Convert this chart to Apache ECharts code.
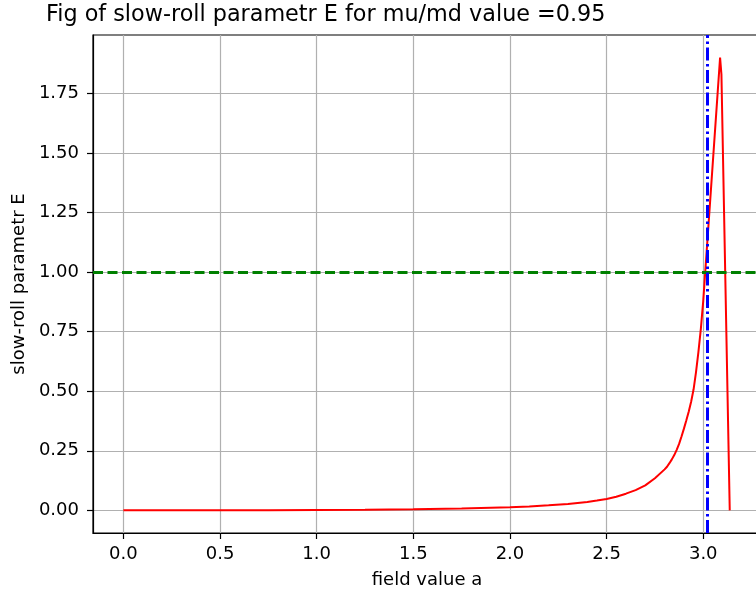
<!DOCTYPE html>
<html>
<head>
<meta charset="utf-8">
<script src="https://cdn.jsdelivr.net/npm/echarts@6/dist/echarts.min.js"></script>
<style>html,body{margin:0;padding:0;background:#fff;}#c{width:756px;height:593px;}</style>
</head>
<body>
<div id="c"></div>
<script>
var titleText = 'Fig of slow-roll parametr E for mu/md value =0.95';
var xLabel = 'field value a';
var yLabel = 'slow-roll parametr E';
var xTicks = [0, 0.5, 1.0, 1.5, 2.0, 2.5, 3.0];
var yTicks = [0, 0.25, 0.5, 0.75, 1.0, 1.25, 1.5, 1.75];
var fieldA = [0, 0.25, 0.5, 0.75, 1.0, 1.25, 1.5, 1.75, 2.0, 2.1, 2.2, 2.3, 2.4, 2.45, 2.5, 2.55, 2.6, 2.65, 2.7, 2.75, 2.8, 2.8125, 2.825, 2.8375, 2.85, 2.8625, 2.875, 2.8875, 2.9, 2.9125, 2.925, 2.9375, 2.95, 2.9625, 2.975, 2.9875, 3.0, 3.087, 3.094, 3.137];
var epsilonE = [0, 0.0001, 0.0004, 0.001, 0.002, 0.003, 0.005, 0.008, 0.013, 0.016, 0.021, 0.027, 0.035, 0.041, 0.048, 0.057, 0.070, 0.085, 0.105, 0.135, 0.172, 0.183, 0.198, 0.214, 0.232, 0.254, 0.279, 0.31, 0.343, 0.378, 0.415, 0.457, 0.508, 0.58, 0.665, 0.762, 0.88, 1.90, 1.83, 0.0];
var endLineX = 3.02;
var thresholdY = 1.0;
var xMin = -0.1571, xMax = 3.2987;
var yMin = -0.095, yMax = 1.995;

var font = 'DejaVu Sans';
var chart = echarts.init(document.getElementById('c'), null, {renderer: 'canvas'});
var pts = fieldA.map(function (x, i) { return [x, epsilonE[i]]; });
chart.setOption({
  animation: false,
  backgroundColor: '#fff',
  title: {
    text: titleText, left: 46, top: 4, padding: 0,
    textStyle: {fontFamily: font, fontSize: 22.3, fontWeight: 'normal', color: '#000'}
  },
  grid: {
    left: 93, right: -5, top: 35, bottom: 60,
    show: true, borderColor: '#000', borderWidth: 1.2, backgroundColor: 'transparent',
    containLabel: false, outerBoundsMode: 'none'
  },
  xAxis: {
    type: 'value', min: xMin, max: xMax,
    name: xLabel, nameLocation: 'middle', nameGap: 38,
    nameTextStyle: {fontFamily: font, fontSize: 18, color: '#000'},
    axisLine: {show: true, onZero: false, lineStyle: {color: '#000', width: 1.2}},
    axisTick: {show: true, length: 6, inside: false, customValues: xTicks, lineStyle: {color: '#000', width: 1.2}},
    axisLabel: {customValues: xTicks, margin: 12, fontFamily: font, fontSize: 18, color: '#000',
      formatter: function (v) { return v.toFixed(1); }},
    splitLine: {show: true, lineStyle: {color: '#b0b0b0', width: 1.2}}
  },
  yAxis: {
    type: 'value', min: yMin, max: yMax,
    name: yLabel, nameLocation: 'middle', nameGap: 63, nameRotate: 90,
    nameTextStyle: {fontFamily: font, fontSize: 18, color: '#000'},
    axisLine: {show: true, onZero: false, lineStyle: {color: '#000', width: 1.2}},
    axisTick: {show: true, length: 6, inside: false, customValues: yTicks, lineStyle: {color: '#000', width: 1.2}},
    axisLabel: {customValues: yTicks, margin: 14, fontFamily: font, fontSize: 18, color: '#000',
      formatter: function (v) { return v.toFixed(2); }},
    splitLine: {show: true, lineStyle: {color: '#b0b0b0', width: 1.2}}
  },
  series: [
    {
      type: 'line', data: pts, showSymbol: false, symbol: 'none', smooth: false,
      lineStyle: {color: '#ff0000', width: 2}, z: 3
    },
    {
      type: 'line', data: [], z: 4,
      markLine: {
        silent: true, symbol: ['none', 'none'], label: {show: false}, animation: false,
        data: [{yAxis: thresholdY}],
        lineStyle: {color: '#008000', width: 3, type: [10, 4.5]}
      }
    },
    {
      type: 'line', data: [], z: 5,
      markLine: {
        silent: true, symbol: ['none', 'none'], label: {show: false}, animation: false,
        data: [{xAxis: endLineX}],
        lineStyle: {color: '#0000ff', width: 3, type: [13, 3.5, 2.5, 3.5]}
      }
    }
  ]
});
</script>
</body>
</html>
